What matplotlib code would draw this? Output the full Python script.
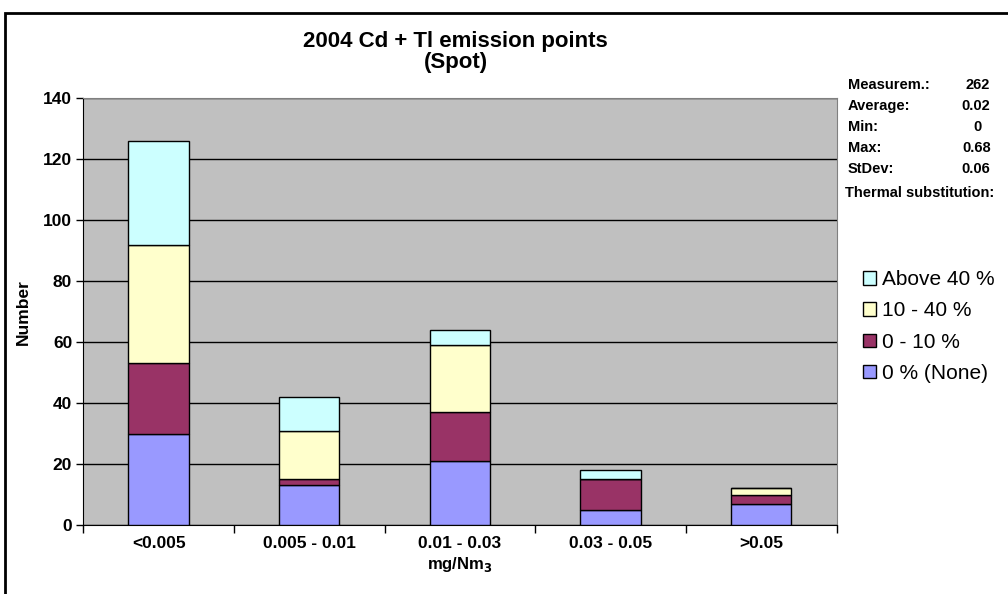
import matplotlib.pyplot as plt
from matplotlib.patches import Rectangle, Patch

plt.rcParams['font.family'] = ['Liberation Sans', 'DejaVu Sans']

categories = ["<0.005", "0.005 - 0.01", "0.01 - 0.03", "0.03 - 0.05", ">0.05"]
none_0 = [30, 13, 21, 5, 7]
sub_0_10 = [23, 2, 16, 10, 3]
sub_10_40 = [39, 16, 22, 0, 2]
above_40 = [34, 11, 5, 3, 0]
series_names = ["0 % (None)", "0 - 10 %", "10 - 40 %", "Above 40 %"]
colors = ["#9999FF", "#993366", "#FFFFCC", "#CCFFFF"]

stat_labels = ["Measurem.:", "Average:", "Min:", "Max:", "StDev:"]
stat_values = ["262", "0.02", "0", "0.68", "0.06"]

fig = plt.figure(figsize=(10.08, 5.94), dpi=100)
ax = fig.add_axes([0.0826, 0.1162, 0.7474, 0.7183])
ax.set_facecolor("#C0C0C0")

x = range(len(categories))
bottom = [0] * len(categories)
for vals, name, c in zip([none_0, sub_0_10, sub_10_40, above_40], series_names, colors):
    ax.bar(x, vals, width=0.4, bottom=bottom, color=c, edgecolor="black",
           linewidth=1, label=name, zorder=3)
    bottom = [b + v for b, v in zip(bottom, vals)]

ax.set_xlim(-0.5, len(categories) - 0.5)
ax.set_ylim(0, 140)
ax.set_yticks(range(0, 141, 20))
ax.yaxis.grid(True, color="black", linewidth=1, zorder=1)
ax.set_axisbelow(True)

ax.set_xticks(list(x))
ax.set_xticklabels(categories, fontsize=12.5, fontweight="bold")
ax.set_xticks([i + 0.5 for i in range(-1, len(categories))], minor=True)
ax.tick_params(axis="x", which="major", length=0, pad=8)
ax.tick_params(axis="x", which="minor", length=6, direction="out", width=1)
ax.tick_params(axis="y", length=5, direction="out", width=1, pad=3)
for t in ax.get_yticklabels():
    t.set_fontsize(12.5)
    t.set_fontweight("bold")

for s in ["top", "right"]:
    ax.spines[s].set_color("#808080")
for s in ["left", "bottom"]:
    ax.spines[s].set_color("black")

ax.set_ylabel("Number", fontsize=12.5, fontweight="bold", labelpad=9)
fig.text(0.456, 0.05, "mg/Nm$_\\mathbf{3}$", ha="center", va="center",
         fontsize=12, fontweight="bold")

fig.text(0.452, 0.93, "2004 Cd + Tl emission points", ha="center", va="center",
         fontsize=16, fontweight="bold")
fig.text(0.452, 0.894, "(Spot)", ha="center", va="center",
         fontsize=16, fontweight="bold")

# stats box
ys = [85, 106, 127, 148, 169]
val_x = [990, 990, 982, 991, 990]
for lab, val, yy, vx in zip(stat_labels, stat_values, ys, val_x):
    fig.text(848 / 1008, 1 - yy / 594, lab, ha="left", va="center",
             fontsize=10.5, fontweight="bold")
    fig.text(vx / 1008, 1 - yy / 594, val, ha="right", va="center",
             fontsize=10.5, fontweight="bold")
fig.text(845 / 1008, 1 - 193 / 594, "Thermal substitution:", ha="left",
         va="center", fontsize=10.5, fontweight="bold")

handles = [Patch(facecolor=c, edgecolor="black", linewidth=1, label=n)
           for c, n in zip(colors, series_names)][::-1]
fig.legend(handles=handles, loc="upper left", bbox_to_anchor=(855 / 1008, 1 - 262 / 594),
           frameon=False, fontsize=15, handlelength=0.6, handleheight=0.6,
           handletextpad=0.3, labelspacing=0.58, borderaxespad=0)

# outer frame (cut off at right and bottom)
fig.patches.append(Rectangle((5 / 1008, -0.2), 1.2, 1.2 - 13 / 594,
                             transform=fig.transFigure, fill=False,
                             edgecolor="black", linewidth=2))

fig.savefig("out.png", dpi=100)
